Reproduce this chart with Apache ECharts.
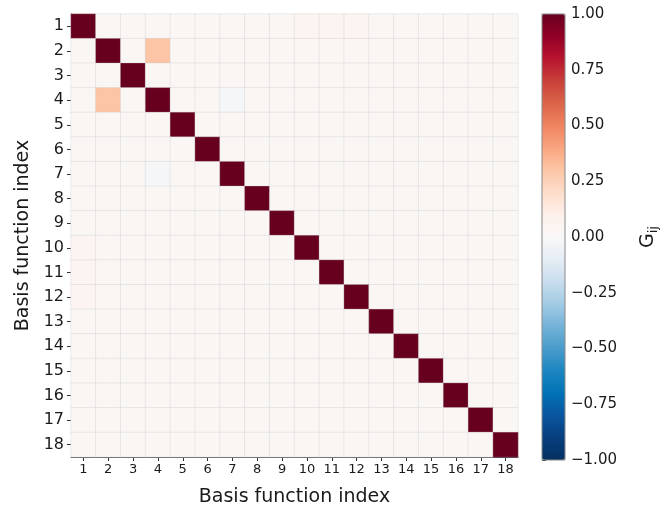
<!DOCTYPE html>
<html>
<head>
<meta charset="utf-8">
<script src="https://cdn.jsdelivr.net/npm/echarts@6/dist/echarts.min.js"></script>
<style>
  html, body { margin: 0; padding: 0; background: #fff; }
  #chart { width: 666px; height: 512px; }
</style>
</head>
<body>
<div id="chart"></div>
<script>
// basis function indices (same on both axes)
const basisIndex = ['1', '2', '3', '4', '5', '6', '7', '8', '9', '10', '11', '12', '13', '14', '15', '16', '17', '18']

// overlap matrix G_ij, row i = basis function i
const gramRows = [
  [1.00, 0.03, 0.03, 0.03, 0.03, 0.03, 0.03, 0.03, 0.03, 0.05, 0.05, 0.05, 0.03, 0.03, 0.03, 0.03, 0.03, 0.03],
  [0.03, 1.00, 0.03, 0.30, 0.03, 0.03, 0.03, 0.03, 0.03, 0.03, 0.03, 0.03, 0.03, 0.03, 0.03, 0.03, 0.03, 0.03],
  [0.03, 0.03, 1.00, 0.03, 0.03, 0.03, 0.03, 0.03, 0.03, 0.03, 0.03, 0.03, 0.03, 0.03, 0.03, 0.03, 0.03, 0.03],
  [0.03, 0.30, 0.03, 1.00, 0.03, 0.03, -0.02, 0.03, 0.03, 0.03, 0.03, 0.03, 0.03, 0.03, 0.03, 0.03, 0.03, 0.03],
  [0.03, 0.03, 0.03, 0.03, 1.00, 0.03, 0.03, 0.03, 0.03, 0.03, 0.03, 0.03, 0.03, 0.03, 0.03, 0.03, 0.03, 0.03],
  [0.03, 0.03, 0.03, 0.03, 0.03, 1.00, 0.03, 0.03, 0.03, 0.03, 0.03, 0.03, 0.03, 0.03, 0.03, 0.03, 0.03, 0.03],
  [0.03, 0.03, 0.03, -0.02, 0.03, 0.03, 1.00, 0.03, 0.03, 0.03, 0.03, 0.03, 0.03, 0.03, 0.03, 0.03, 0.03, 0.03],
  [0.03, 0.03, 0.03, 0.03, 0.03, 0.03, 0.03, 1.00, 0.03, 0.03, 0.03, 0.03, 0.03, 0.03, 0.03, 0.03, 0.03, 0.03],
  [0.03, 0.03, 0.03, 0.03, 0.03, 0.03, 0.03, 0.03, 1.00, 0.03, 0.03, 0.03, 0.03, 0.03, 0.03, 0.03, 0.03, 0.03],
  [0.05, 0.03, 0.03, 0.03, 0.03, 0.03, 0.03, 0.03, 0.03, 1.00, 0.03, 0.03, 0.03, 0.03, 0.03, 0.03, 0.03, 0.03],
  [0.05, 0.03, 0.03, 0.03, 0.03, 0.03, 0.03, 0.03, 0.03, 0.03, 1.00, 0.03, 0.03, 0.03, 0.03, 0.03, 0.03, 0.03],
  [0.05, 0.03, 0.03, 0.03, 0.03, 0.03, 0.03, 0.03, 0.03, 0.03, 0.03, 1.00, 0.03, 0.03, 0.03, 0.03, 0.03, 0.03],
  [0.03, 0.03, 0.03, 0.03, 0.03, 0.03, 0.03, 0.03, 0.03, 0.03, 0.03, 0.03, 1.00, 0.03, 0.03, 0.03, 0.03, 0.03],
  [0.03, 0.03, 0.03, 0.03, 0.03, 0.03, 0.03, 0.03, 0.03, 0.03, 0.03, 0.03, 0.03, 1.00, 0.03, 0.03, 0.03, 0.03],
  [0.03, 0.03, 0.03, 0.03, 0.03, 0.03, 0.03, 0.03, 0.03, 0.03, 0.03, 0.03, 0.03, 0.03, 1.00, 0.03, 0.03, 0.03],
  [0.03, 0.03, 0.03, 0.03, 0.03, 0.03, 0.03, 0.03, 0.03, 0.03, 0.03, 0.03, 0.03, 0.03, 0.03, 1.00, 0.03, 0.03],
  [0.03, 0.03, 0.03, 0.03, 0.03, 0.03, 0.03, 0.03, 0.03, 0.03, 0.03, 0.03, 0.03, 0.03, 0.03, 0.03, 1.00, 0.03],
  [0.03, 0.03, 0.03, 0.03, 0.03, 0.03, 0.03, 0.03, 0.03, 0.03, 0.03, 0.03, 0.03, 0.03, 0.03, 0.03, 0.03, 1.00]
]

// colour bar range and ticks
const colorMin = -1
const colorMax = 1

// diverging red-blue map, from -1 up to 1
const rdBu = [
  '#053061', '#073f7e', '#0a55a0', '#0072b5', '#1c86c0', '#4a9ccb', '#74b2d8',
  '#a2cbe4', '#c8dded', '#e5edf5', '#f9f8f8', '#fdf0ea', '#fdddca', '#fcc6a6',
  '#f9a57f', '#ef8460', '#db6449', '#c8403a', '#b8142e', '#920026', '#67001f'
]

const font = 'DejaVu Sans'
const cells = []
gramRows.forEach((row, i) => {
  row.forEach((v, j) => {
    cells.push([j, i, v])
  })
})

const chart = echarts.init(document.getElementById('chart'))
const option = {
  animation: false,
  backgroundColor: '#fff',
  grid: [
    { left: 71, top: 14, width: 447, height: 446 },
    { left: 542, top: 14, width: 23, height: 446, show: true, borderColor: '#888', borderWidth: 1, backgroundColor: 'transparent', z: 5 }
  ],
  xAxis: [
    {
      type: 'category',
      gridIndex: 0,
      data: basisIndex,
      name: 'Basis function index',
      nameLocation: 'middle',
      nameGap: 31,
      nameTextStyle: { fontFamily: font, fontSize: 19, color: '#1a1a1a' },
      axisLine: { show: true, lineStyle: { color: '#333', width: 1 } },
      axisTick: { show: true, alignWithLabel: true, length: 4, lineStyle: { color: '#333' } },
      axisLabel: { fontFamily: font, fontSize: 13, color: '#1a1a1a', margin: 6, interval: 0 },
      splitLine: { show: false }
    },
    {
      type: 'value',
      gridIndex: 1,
      show: false,
      min: 0,
      max: 1
    }
  ],
  yAxis: [
    {
      type: 'category',
      gridIndex: 0,
      data: basisIndex,
      inverse: true,
      name: 'Basis function index',
      nameLocation: 'middle',
      nameGap: 38,
      nameTextStyle: { fontFamily: font, fontSize: 19, color: '#1a1a1a' },
      axisLine: { show: true, lineStyle: { color: '#333', width: 1 } },
      axisTick: { show: true, alignWithLabel: true, length: 4, lineStyle: { color: '#333' } },
      axisLabel: { fontFamily: font, fontSize: 16, color: '#1a1a1a', margin: 7, interval: 0 },
      splitLine: { show: false }
    },
    {
      type: 'value',
      gridIndex: 1,
      position: 'right',
      min: colorMin,
      max: colorMax,
      interval: 0.25,
      name: '{g|G}{s|ij}',
      nameLocation: 'middle',
      nameRotate: 90,
      nameGap: 72,
      nameTextStyle: {
        fontFamily: font,
        color: '#1a1a1a',
        rich: {
          g: { fontFamily: font, fontSize: 19, color: '#1a1a1a' },
          s: { fontFamily: font, fontSize: 13, color: '#1a1a1a', padding: [10, 0, 0, 0] }
        }
      },
      axisLine: { show: false },
      axisTick: { show: true, length: 4, lineStyle: { color: '#333' } },
      axisLabel: {
        fontFamily: font,
        fontSize: 15,
        color: '#1a1a1a',
        margin: 6,
        formatter: v => (v < 0 ? '\u2212' : '') + Math.abs(v).toFixed(2)
      },
      splitLine: { show: false }
    }
  ],
  visualMap: {
    type: 'continuous',
    min: colorMin,
    max: colorMax,
    seriesIndex: 0,
    calculable: false,
    hoverLink: false,
    left: 542,
    top: 14,
    itemWidth: 23,
    itemHeight: 446,
    padding: 0,
    text: null,
    showLabel: false,
    inRange: { color: rdBu }
  },
  series: [
    {
      type: 'heatmap',
      xAxisIndex: 0,
      yAxisIndex: 0,
      data: cells,
      itemStyle: { borderColor: 'rgba(200,200,200,0.3)', borderWidth: 1 },
      emphasis: { disabled: true }
    }
  ]
}
chart.setOption(option)
</script>
</body>
</html>
